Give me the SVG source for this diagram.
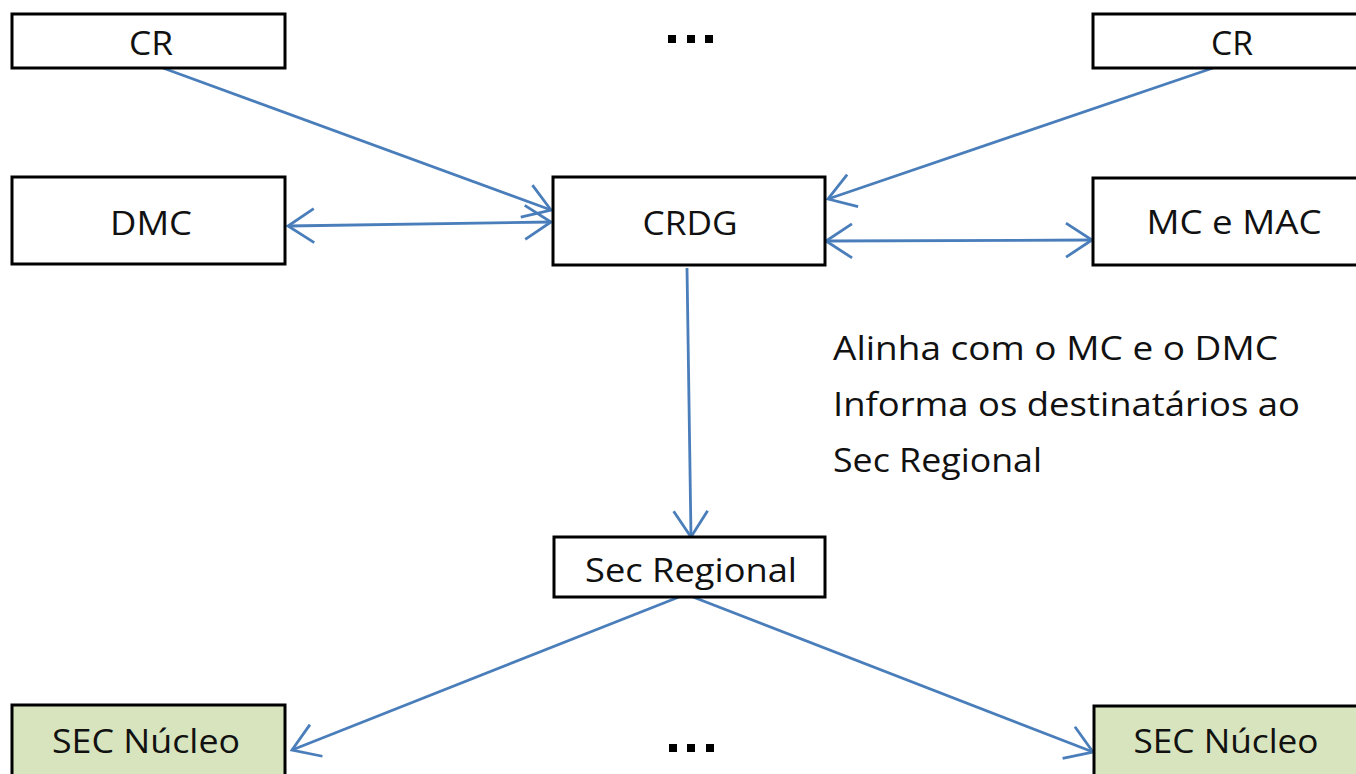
<svg xmlns="http://www.w3.org/2000/svg" width="1356" height="774" viewBox="0 0 1356 774">
<defs>
<style>
.box{fill:#ffffff;stroke:#000000;stroke-width:3}
.green{fill:#d7e4bd;stroke:#000000;stroke-width:3}
.lbl{font-family:"Open Sans","Liberation Sans",sans-serif;font-size:32px;fill:#111111}
.con{stroke:#4a7ebb;stroke-width:2.8;fill:none}
.dot{fill:#000000}
</style>
<marker id="arr" markerUnits="userSpaceOnUse" markerWidth="40" markerHeight="40" viewBox="-30 -20 34 40" refX="0" refY="0" orient="auto-start-reverse">
<path d="M-26,-17 L0,0 L-26,17" fill="none" stroke="#4a7ebb" stroke-width="2.8"/>
</marker>
</defs>
<rect width="1356" height="774" fill="#ffffff"/>

<g id="connectors">
<line class="con" x1="163" y1="68" x2="551" y2="210" marker-end="url(#arr)"/>
<line class="con" x1="288" y1="226" x2="551" y2="222" marker-start="url(#arr)" marker-end="url(#arr)"/>
<line class="con" x1="1213" y1="68" x2="828" y2="199" marker-end="url(#arr)"/>
<line class="con" x1="826" y1="241" x2="1092" y2="240" marker-start="url(#arr)" marker-end="url(#arr)"/>
<line class="con" x1="687" y1="268" x2="691" y2="537" marker-end="url(#arr)"/>
<line class="con" x1="679" y1="597" x2="292" y2="750" marker-end="url(#arr)"/>
<line class="con" x1="693" y1="597" x2="1093" y2="752" marker-end="url(#arr)"/>
</g>

<g id="cr-left">
<rect class="box" x="12" y="14" width="273" height="54"/>
<text class="lbl" x="151" y="55" text-anchor="middle" textLength="44" lengthAdjust="spacingAndGlyphs">CR</text>
</g>
<g id="cr-right">
<rect class="box" x="1093" y="14" width="273" height="54"/>
<text class="lbl" x="1232" y="55" text-anchor="middle" textLength="42" lengthAdjust="spacingAndGlyphs">CR</text>
</g>
<g id="dots-top">
<rect class="dot" x="668" y="35" width="8" height="8"/>
<rect class="dot" x="687" y="35" width="8" height="8"/>
<rect class="dot" x="705" y="35" width="8" height="8"/>
</g>
<g id="dmc">
<rect class="box" x="12" y="177" width="273" height="87"/>
<text class="lbl" x="151" y="235" text-anchor="middle" textLength="82" lengthAdjust="spacingAndGlyphs">DMC</text>
</g>
<g id="crdg">
<rect class="box" x="553" y="177" width="272" height="88"/>
<text class="lbl" x="690" y="235" text-anchor="middle" textLength="95" lengthAdjust="spacingAndGlyphs">CRDG</text>
</g>
<g id="mc-mac">
<rect class="box" x="1093" y="178" width="273" height="87"/>
<text class="lbl" x="1234" y="234" text-anchor="middle" textLength="175" lengthAdjust="spacingAndGlyphs">MC e MAC</text>
</g>
<g id="note">
<text class="lbl" x="833" y="360" textLength="445" lengthAdjust="spacingAndGlyphs">Alinha com o MC e o DMC</text>
<text class="lbl" x="833" y="416" textLength="467" lengthAdjust="spacingAndGlyphs">Informa os destinatários ao</text>
<text class="lbl" x="833" y="472" textLength="209" lengthAdjust="spacingAndGlyphs">Sec Regional</text>
</g>
<g id="sec-regional">
<rect class="box" x="554" y="537" width="271" height="60"/>
<text class="lbl" x="691" y="582" text-anchor="middle" textLength="212" lengthAdjust="spacingAndGlyphs">Sec Regional</text>
</g>
<g id="sec-nucleo-left">
<rect class="green" x="12" y="705" width="273" height="90"/>
<text class="lbl" x="146" y="753" text-anchor="middle" textLength="188" lengthAdjust="spacingAndGlyphs">SEC Núcleo</text>
</g>
<g id="sec-nucleo-right">
<rect class="green" x="1094" y="706" width="273" height="90"/>
<text class="lbl" x="1226" y="753" text-anchor="middle" textLength="185" lengthAdjust="spacingAndGlyphs">SEC Núcleo</text>
</g>
<g id="dots-bottom">
<rect class="dot" x="669" y="744" width="8" height="8"/>
<rect class="dot" x="687" y="744" width="8" height="8"/>
<rect class="dot" x="706" y="744" width="8" height="8"/>
</g>
</svg>
